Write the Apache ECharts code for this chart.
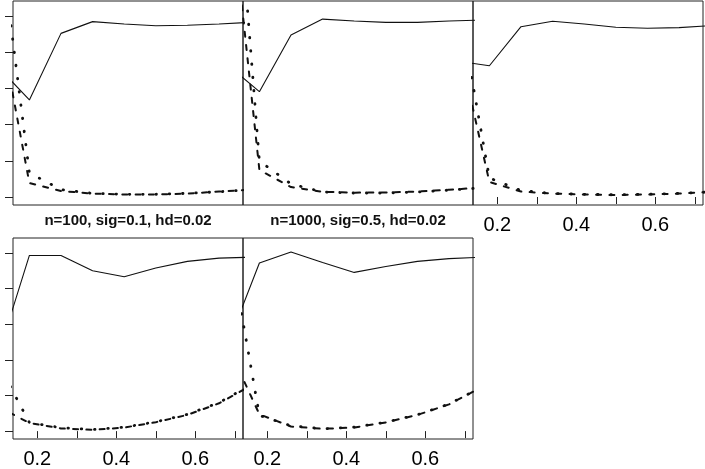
<!DOCTYPE html>
<html>
<head>
<meta charset="utf-8">
<script src="https://cdn.jsdelivr.net/npm/echarts@6/dist/echarts.min.js"></script>
<style>
  html, body { margin: 0; padding: 0; background: #fff; }
  #chart { width: 705px; height: 469px; }
</style>
</head>
<body>
<div id="chart"></div>
<script>
// bandwidth grid
const xs = [0.10, 0.18, 0.26, 0.34, 0.42, 0.50, 0.58, 0.66, 0.74];

// panel 1..5 : solid / dashed / dotted
const solid1  = [0.720, 0.536, 0.904, 0.969, 0.956, 0.946, 0.949, 0.956, 0.965];
const dashed1 = [1.011, 0.077, 0.033, 0.019, 0.014, 0.014, 0.019, 0.030, 0.041];
const dotted1 = [1.530, 0.133, 0.041, 0.020, 0.015, 0.015, 0.020, 0.029, 0.040];

const solid2  = [0.730, 0.582, 0.895, 0.983, 0.972, 0.965, 0.965, 0.972, 0.978];
const dashed2 = [1.790, 0.149, 0.055, 0.029, 0.024, 0.025, 0.030, 0.040, 0.052];
const dotted2 = [2.420, 0.199, 0.072, 0.028, 0.022, 0.022, 0.028, 0.038, 0.050];

const solid3  = [0.751, 0.725, 0.941, 0.971, 0.956, 0.938, 0.932, 0.936, 0.947];
const dashed3 = [0.862, 0.083, 0.030, 0.019, 0.014, 0.011, 0.014, 0.019, 0.028];
const dotted3 = [1.095, 0.105, 0.036, 0.019, 0.015, 0.012, 0.015, 0.020, 0.028];

const solid4  = [0.419, 0.985, 0.985, 0.899, 0.866, 0.915, 0.952, 0.970, 0.975];
const dashed4 = [0.138, 0.046, 0.015, 0.007, 0.020, 0.050, 0.091, 0.156, 0.254];
const dotted4 = [0.382, 0.048, 0.019, 0.009, 0.022, 0.052, 0.094, 0.160, 0.257];

const solid5  = [0.486, 0.943, 1.004, 0.946, 0.890, 0.923, 0.952, 0.967, 0.975];
const dashed5 = [0.478, 0.094, 0.026, 0.013, 0.020, 0.049, 0.091, 0.150, 0.243];
const dotted5 = [1.100, 0.088, 0.030, 0.013, 0.022, 0.050, 0.092, 0.152, 0.243];

const stripLabels = ['n=100, sig=0.1, hd=0.02', 'n=1000, sig=0.5, hd=0.02'];
const xTicks = [0.2, 0.3, 0.4, 0.5, 0.6, 0.7];
const xTickLabels = [0.2, 0.4, 0.6];
const yTicks = [0, 0.2, 0.4, 0.6, 0.8, 1.0];

const panels = [
  { s: solid1, d: dashed1, o: dotted1 },
  { s: solid2, d: dashed2, o: dotted2 },
  { s: solid3, d: dashed3, o: dotted3 },
  { s: solid4, d: dashed4, o: dotted4 },
  { s: solid5, d: dashed5, o: dotted5 }
];

// panel layout: position, bottom ticks, left ticks
const layout = [
  { left: 13,  top: 1,   xt: false, yt: true  },
  { left: 243, top: 1,   xt: false, yt: false },
  { left: 473, top: 1,   xt: true,  yt: false },
  { left: 13,  top: 238, xt: true,  yt: true  },
  { left: 243, top: 238, xt: true,  yt: false }
];

const font = '"Liberation Sans", Arial, sans-serif';
const pair = arr => xs.map((x, i) => [x, arr[i]]);

const chart = echarts.init(document.getElementById('chart'));

const option = {
  backgroundColor: '#fff',
  animation: false,
  grid: layout.map(p => ({
    left: p.left, top: p.top, width: 230, height: 204,
    show: true, borderColor: '#222', borderWidth: 1, backgroundColor: 'transparent'
  })),
  xAxis: layout.map((p, i) => ({
    type: 'value', gridIndex: i, min: 0.1385, max: 0.7207,
    axisLine: { show: false },
    splitLine: { show: false },
    axisTick: { show: p.xt, inside: false, length: 7, customValues: xTicks,
      lineStyle: { color: '#222', width: 1 } },
    axisLabel: { show: p.xt, customValues: xTickLabels, margin: 10,
      fontSize: 20, fontFamily: font, color: '#000',
      formatter: v => v.toFixed(1) }
  })),
  yAxis: layout.map((p, i) => ({
    type: 'value', gridIndex: i, min: -0.0442, max: 1.0829,
    axisLine: { show: false },
    splitLine: { show: false },
    axisTick: { show: p.yt, inside: false, length: 8, customValues: yTicks,
      lineStyle: { color: '#222', width: 1 } },
    axisLabel: { show: false }
  })),
  graphic: stripLabels.map((t, i) => ({
    type: 'text', x: 128 + i * 230, y: 221,
    style: { text: t, fill: '#111', font: 'bold 15px ' + font,
      textAlign: 'center', textVerticalAlign: 'middle' }
  })),
  series: panels.flatMap((p, i) => [
    { type: 'line', xAxisIndex: i, yAxisIndex: i, data: pair(p.s),
      showSymbol: false, lineStyle: { color: '#111', width: 1.1 } },
    { type: 'line', xAxisIndex: i, yAxisIndex: i, data: pair(p.d),
      showSymbol: false, lineStyle: { color: '#111', width: 2, type: [5, 8.3], cap: 'round' } },
    { type: 'line', xAxisIndex: i, yAxisIndex: i, data: pair(p.o),
      showSymbol: false, lineStyle: { color: '#111', width: 2.8, type: [0.5, 12.8], cap: 'round' } }
  ])
};

chart.setOption(option);
window.addEventListener('resize', () => chart.resize());
</script>
</body>
</html>
